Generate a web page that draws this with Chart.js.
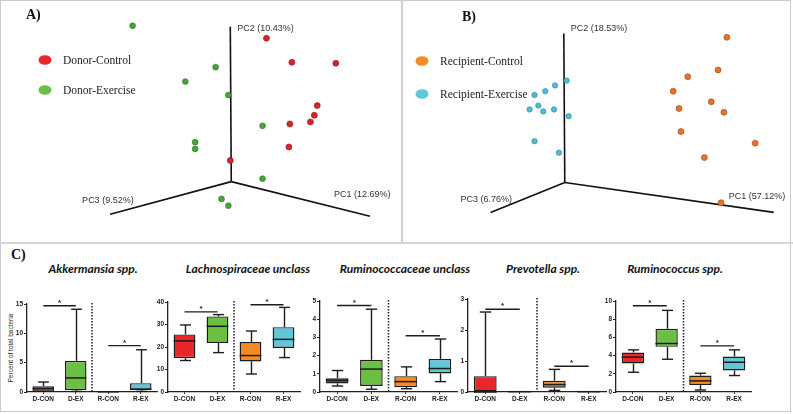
<!DOCTYPE html>
<html>
<head>
<meta charset="utf-8">
<script src="https://cdn.jsdelivr.net/npm/chart.js@4.4.1/dist/chart.umd.min.js"></script>
<style>
  html, body { margin:0; padding:0; background:#fff; }
  #wrap { position:relative; width:793px; height:414px; overflow:hidden; background:#fff; }
  canvas { position:absolute; }
  .frame { position:absolute; left:0; top:0; width:791px; height:412px; border:1.5px solid #cbcbcb; box-sizing:border-box; }
  .hline { position:absolute; left:0; top:242px; width:793px; height:2px; background:#d6d6d6; }
  .vline { position:absolute; left:401px; top:0; width:1.5px; height:243px; background:#d0d0d0; }
  .plab { position:absolute; font-family:"Liberation Serif", serif; font-weight:bold; font-size:14px; color:#111; }
  .ttl { position:absolute; top:261px; font-family:Lato, "Open Sans", sans-serif; font-weight:bold; font-style:italic; font-size:12px; color:#111; white-space:nowrap; transform:translateX(-50%); }
  .ytitle { position:absolute; left:10px; top:348px; font-family:"Liberation Sans", Arial, sans-serif; font-size:6.5px; color:#222; white-space:nowrap; transform:translate(-50%,-50%) rotate(-90deg); }
</style>
</head>
<body>
<div id="wrap">
  <div class="frame"></div>
  <div class="hline"></div>
  <div class="vline"></div>
  <canvas id="cA" width="401" height="242" style="left:0;top:0"></canvas>
  <canvas id="cB" width="390" height="242" style="left:402px;top:0"></canvas>
  <div class="plab" style="left:26px;top:7px">A)</div>
  <div class="plab" style="left:462px;top:9px">B)</div>
  <div class="plab" style="left:11px;top:247px">C)</div>
  <div class="ytitle">Percent of total bacteria</div>
  <div id="titles"></div>
  <canvas id="b1" width="152" height="107" style="left:7px;top:299px"></canvas>
  <canvas id="b2" width="154" height="109" style="left:148px;top:297px"></canvas>
  <canvas id="b3" width="159" height="110" style="left:300px;top:296px"></canvas>
  <canvas id="b4" width="160" height="112" style="left:448px;top:294px"></canvas>
  <canvas id="b5" width="157" height="110" style="left:596px;top:296px"></canvas>
</div>
<script>
// ---------- Panel A: donor PCoA (projected coordinates) ----------
const donorSeries = ['Donor-Control', 'Donor-Exercise'];
const donorControlX = [268, 294, 339, 320, 317, 313, 292, 291, 231];
const donorControlY = [35, 60, 61, 105, 115, 122, 124, 148, 162];
const donorExerciseX = [131, 216, 185, 229, 264, 195, 195, 264, 222, 229];
const donorExerciseY = [22, 65, 80, 94, 126, 143, 150, 181, 202, 209];
const axisLabelsA = ['PC1 (12.69%)', 'PC2 (10.43%)', 'PC3 (9.52%)'];
const axisOriginA = [232, 184];
const axisEndsA = [[374, 220], [231, 23], [108, 218]];

// ---------- Panel B: recipient PCoA ----------
const recipSeries = ['Recipient-Control', 'Recipient-Exercise'];
const recipControlX = [730, 721, 690, 675, 714, 681, 727, 683, 759, 707, 724];
const recipControlY = [34, 68, 75, 90, 101, 108, 112, 132, 144, 159, 206];
const recipExerciseX = [566, 554, 544, 533, 537, 528, 542, 553, 568, 533, 558];
const recipExerciseY = [79, 84, 90, 94, 105, 109, 111, 109, 116, 142, 154];
const axisLabelsB = ['PC1 (57.12%)', 'PC2 (18.53%)', 'PC3 (6.76%)'];
const axisOriginB = [564, 185];
const axisEndsB = [[778, 216], [563, 30], [488, 216]];

// ---------- Panel C: box plots (percent of total bacteria) ----------
const groups = ['D-CON', 'D-EX', 'R-CON', 'R-EX'];
const taxa = ['Akkermansia spp.', 'Lachnospiraceae unclass', 'Ruminococcaceae unclass', 'Prevotella spp.', 'Ruminococcus spp.'];
const yMaxes = [15, 40, 5, 3, 10];
const yStepSizes = [5, 10, 1, 1, 2];

const akkMin = [0, 0.1, 0, 0.1];
const akkQ1 = [0.05, 0.3, 0, 0.3];
const akkMed = [0.6, 2.4, 0.03, 0.5];
const akkQ3 = [1.0, 5.3, 0.06, 1.5];
const akkMax = [1.7, 14.1, 0.08, 7.2];
const akkSig = [14.7, 7.9];

const lachMin = [14.0, 17.5, 8.0, 15.3];
const lachQ1 = [15.1, 21.8, 13.6, 19.6];
const lachMed = [22.7, 29.2, 16.2, 23.4];
const lachQ3 = [25.6, 33.6, 22.2, 28.8];
const lachMax = [29.8, 34.4, 27.1, 37.6];
const lachSig = [35.6, 38.8];

const rumcMin = [0.33, 0.15, 0.18, 0.57];
const rumcQ1 = [0.47, 0.33, 0.27, 1.02];
const rumcMed = [0.64, 1.26, 0.57, 1.29];
const rumcQ3 = [0.75, 1.77, 0.87, 1.82];
const rumcMax = [1.18, 4.55, 1.38, 2.91];
const rumcSig = [4.75, 3.09];

const prevMin = [0, 0, 0.05, 0];
const prevQ1 = [0, 0, 0.14, 0];
const prevMed = [0, 0.01, 0.24, 0.01];
const prevQ3 = [0.51, 0.01, 0.36, 0.01];
const prevMax = [2.58, 0.01, 0.73, 0.01];
const prevSig = [2.67, 0.83];

const rumsMin = [2.17, 3.6, 0.22, 1.81];
const rumsQ1 = [3.13, 4.96, 0.78, 2.36];
const rumsMed = [3.83, 5.33, 1.22, 3.27];
const rumsQ3 = [4.34, 6.95, 1.81, 3.9];
const rumsMax = [4.63, 8.97, 2.06, 4.63];
const rumsSig = [9.48, 5.07];

// ---------- styles ----------
const pointColors = { dc: '#d6242b', de: '#45a638', rc: '#e5732a', re: '#4dbdd2' };
const pointBorders = { dc: '#8e1217', de: '#2a6e20', rc: '#9c4614', re: '#2b8597' };
const legendFill = { dc: '#e8262c', de: '#6cc04a', rc: '#f28c28', re: '#5ec8d8' };
const boxColors = ['#e8262c', '#6cbf45', '#f58a24', '#62c6d9'];

// ---------- PCoA charts ----------
const pcoaPlugin = {
  id: 'pcoa',
  afterDatasetsDraw(chart, args, o) {
    const { ctx, scales: { x, y } } = chart;
    ctx.save();
    // axis labels
    ctx.font = '9px "Liberation Sans", Arial, sans-serif';
    ctx.fillStyle = '#333';
    ctx.textBaseline = 'middle';
    ctx.textAlign = 'left';
    o.ends.forEach((e, i) => {
      const px = x.getPixelForValue(e[0]) + o.labelOffsets[i][0];
      const py = y.getPixelForValue(e[1]) + o.labelOffsets[i][1];
      ctx.fillText(o.labels[i], px, py);
    });
    // legend
    o.legend.forEach((it, i) => {
      const lx = o.legendX, ly = o.legendY + i * o.legendGap;
      ctx.beginPath();
      ctx.ellipse(lx, ly, 6.5, 4.8, 0, 0, Math.PI * 2);
      ctx.fillStyle = it.color;
      ctx.fill();
      ctx.fillStyle = '#222';
      ctx.font = '11.5px "Liberation Serif", "Times New Roman", serif';
      ctx.fillText(it.text, lx + 18, ly + 0.5);
    });
    ctx.restore();
  }
};

function toPts(xs, ys) { return xs.map((v, i) => ({ x: v, y: ys[i] })); }
function axisSets(origin, ends) {
  return ends.map(e => ({
    type: 'line', data: [{ x: origin[0], y: origin[1] }, { x: e[0], y: e[1] }],
    borderColor: '#111', borderWidth: 1.6, pointRadius: 0, showLine: true, order: 5
  }));
}
function scatterSet(xs, ys, key, r) {
  return { type: 'scatter', data: toPts(xs, ys), backgroundColor: pointColors[key], borderColor: pointBorders[key], borderWidth: 0.6, pointRadius: r, order: 1 };
}

function pcoa(id, x0, x1, sets, origin, ends, labels, offsets, legend, lx, ly, lg) {
  new Chart(document.getElementById(id), {
    data: { datasets: [...axisSets(origin, ends), ...sets] },
    options: {
      responsive: false, animation: false, devicePixelRatio: 1, events: [],
      layout: { padding: 0 },
      plugins: { legend: { display: false }, tooltip: { enabled: false },
        pcoa: { ends, labels, labelOffsets: offsets, legend, legendX: lx, legendY: ly, legendGap: lg } },
      scales: {
        x: { type: 'linear', display: false, min: x0, max: x1 },
        y: { type: 'linear', display: false, min: 0, max: 242, reverse: true }
      }
    },
    plugins: [pcoaPlugin]
  });
}

pcoa('cA', 0, 401,
  [scatterSet(donorControlX, donorControlY, 'dc', 3), scatterSet(donorExerciseX, donorExerciseY, 'de', 2.9)],
  axisOriginA, axisEndsA, axisLabelsA, [[-36, -22], [7, 2], [-28, -14]],
  [{ text: donorSeries[0], color: legendFill.dc }, { text: donorSeries[1], color: legendFill.de }], 45, 60, 30);

pcoa('cB', 402, 792,
  [scatterSet(recipControlX, recipControlY, 'rc', 3), scatterSet(recipExerciseX, recipExerciseY, 're', 2.7)],
  axisOriginB, axisEndsB, axisLabelsB, [[-45, -16], [7, -5], [-30, -13]],
  [{ text: recipSeries[0], color: legendFill.rc }, { text: recipSeries[1], color: legendFill.re }], 422 - 402, 61, 33);

// ---------- Box plot charts ----------
const boxPlugin = {
  id: 'boxw',
  afterDatasetsDraw(chart, args, o) {
    const { ctx, scales: { x, y } } = chart;
    const meta = chart.getDatasetMeta(0);
    const line = (a, b, c, d) => { ctx.beginPath(); ctx.moveTo(a, b); ctx.lineTo(c, d); ctx.stroke(); };
    ctx.save();
    ctx.strokeStyle = '#1c1c1c';
    ctx.lineCap = 'butt';
    o.min.forEach((mn, i) => {
      const bar = meta.data[i];
      const cx = Math.round(bar.x) + 0.5, w = bar.width;
      const pMin = y.getPixelForValue(mn), pQ1 = y.getPixelForValue(o.q1[i]);
      const pMed = y.getPixelForValue(o.med[i]), pQ3 = y.getPixelForValue(o.q3[i]);
      const pMax = y.getPixelForValue(o.max[i]);
      ctx.lineWidth = 1.4;
      if (pQ3 - pMax > 0.5) { line(cx, pQ3, cx, pMax); line(cx - w / 4, pMax, cx + w / 4, pMax); }
      if (pMin - pQ1 > 0.5) { line(cx, pQ1, cx, pMin); line(cx - w / 4, pMin, cx + w / 4, pMin); }
      ctx.lineWidth = 1.5;
      line(bar.x - w / 2, pMed, bar.x + w / 2, pMed);
    });
    // dotted separator between donor and recipient groups
    const sx = (x.getPixelForValue(1) + x.getPixelForValue(2)) / 2;
    ctx.setLineDash([1.4, 1.6]);
    ctx.lineWidth = 1.5;
    line(sx, y.top - 1, sx, y.bottom - 1);
    ctx.setLineDash([]);
    // significance bars
    ctx.lineWidth = 1.4;
    ctx.fillStyle = '#222';
    ctx.font = 'bold 8px "Liberation Sans", Arial, sans-serif';
    ctx.textAlign = 'center';
    ctx.textBaseline = 'bottom';
    o.sig.forEach((lv, k) => {
      const a = x.getPixelForValue(2 * k), b = x.getPixelForValue(2 * k + 1);
      const py = y.getPixelForValue(lv);
      line(a, py, b, py);
      ctx.fillText('*', (a + b) / 2, py + 1);
    });
    ctx.restore();
  }
};

const tickFont = { family: '"Liberation Sans", Arial, sans-serif', size: 6.5, weight: 'bold' };

function boxChart(id, idx, mn, q1, md, q3, mx, sig) {
  new Chart(document.getElementById(id), {
    type: 'bar',
    data: {
      labels: groups,
      datasets: [{
        data: q1.map((v, i) => [v, q3[i]]),
        backgroundColor: boxColors, borderColor: '#1c1c1c', borderWidth: 1.4, borderSkipped: false,
        barPercentage: 0.66, categoryPercentage: 1
      }]
    },
    options: {
      responsive: false, animation: false, devicePixelRatio: 1, events: [],
      layout: { padding: { top: 5, right: 2, left: 0, bottom: 0 } },
      plugins: { legend: { display: false }, tooltip: { enabled: false },
        boxw: { min: mn, q1, med: md, q3, max: mx, sig } },
      scales: {
        x: {
          offset: true,
          grid: { offset: false, drawOnChartArea: false, tickLength: 2, color: '#222', lineWidth: 1 },
          border: { color: '#222', width: 1.3 },
          ticks: { font: tickFont, color: '#222', padding: 1, maxRotation: 0 },
          afterFit(s) { s.height = 14; }
        },
        y: {
          min: 0, max: yMaxes[idx],
          grid: { drawOnChartArea: false, tickLength: 3, color: '#222', lineWidth: 1 },
          border: { color: '#222', width: 1.3 },
          ticks: { stepSize: yStepSizes[idx], font: tickFont, color: '#222', padding: 1 },
          afterFit(s) { s.width = 20; }
        }
      }
    },
    plugins: [boxPlugin]
  });
}

boxChart('b1', 0, akkMin, akkQ1, akkMed, akkQ3, akkMax, akkSig);
boxChart('b2', 1, lachMin, lachQ1, lachMed, lachQ3, lachMax, lachSig);
boxChart('b3', 2, rumcMin, rumcQ1, rumcMed, rumcQ3, rumcMax, rumcSig);
boxChart('b4', 3, prevMin, prevQ1, prevMed, prevQ3, prevMax, prevSig);
boxChart('b5', 4, rumsMin, rumsQ1, rumsMed, rumsQ3, rumsMax, rumsSig);

// panel titles
const titleCenters = [93, 248, 405, 543, 675];
const tdiv = document.getElementById('titles');
taxa.forEach((t, i) => {
  const d = document.createElement('div');
  d.className = 'ttl';
  d.style.left = titleCenters[i] + 'px';
  d.textContent = t;
  tdiv.appendChild(d);
});
</script>
</body>
</html>
